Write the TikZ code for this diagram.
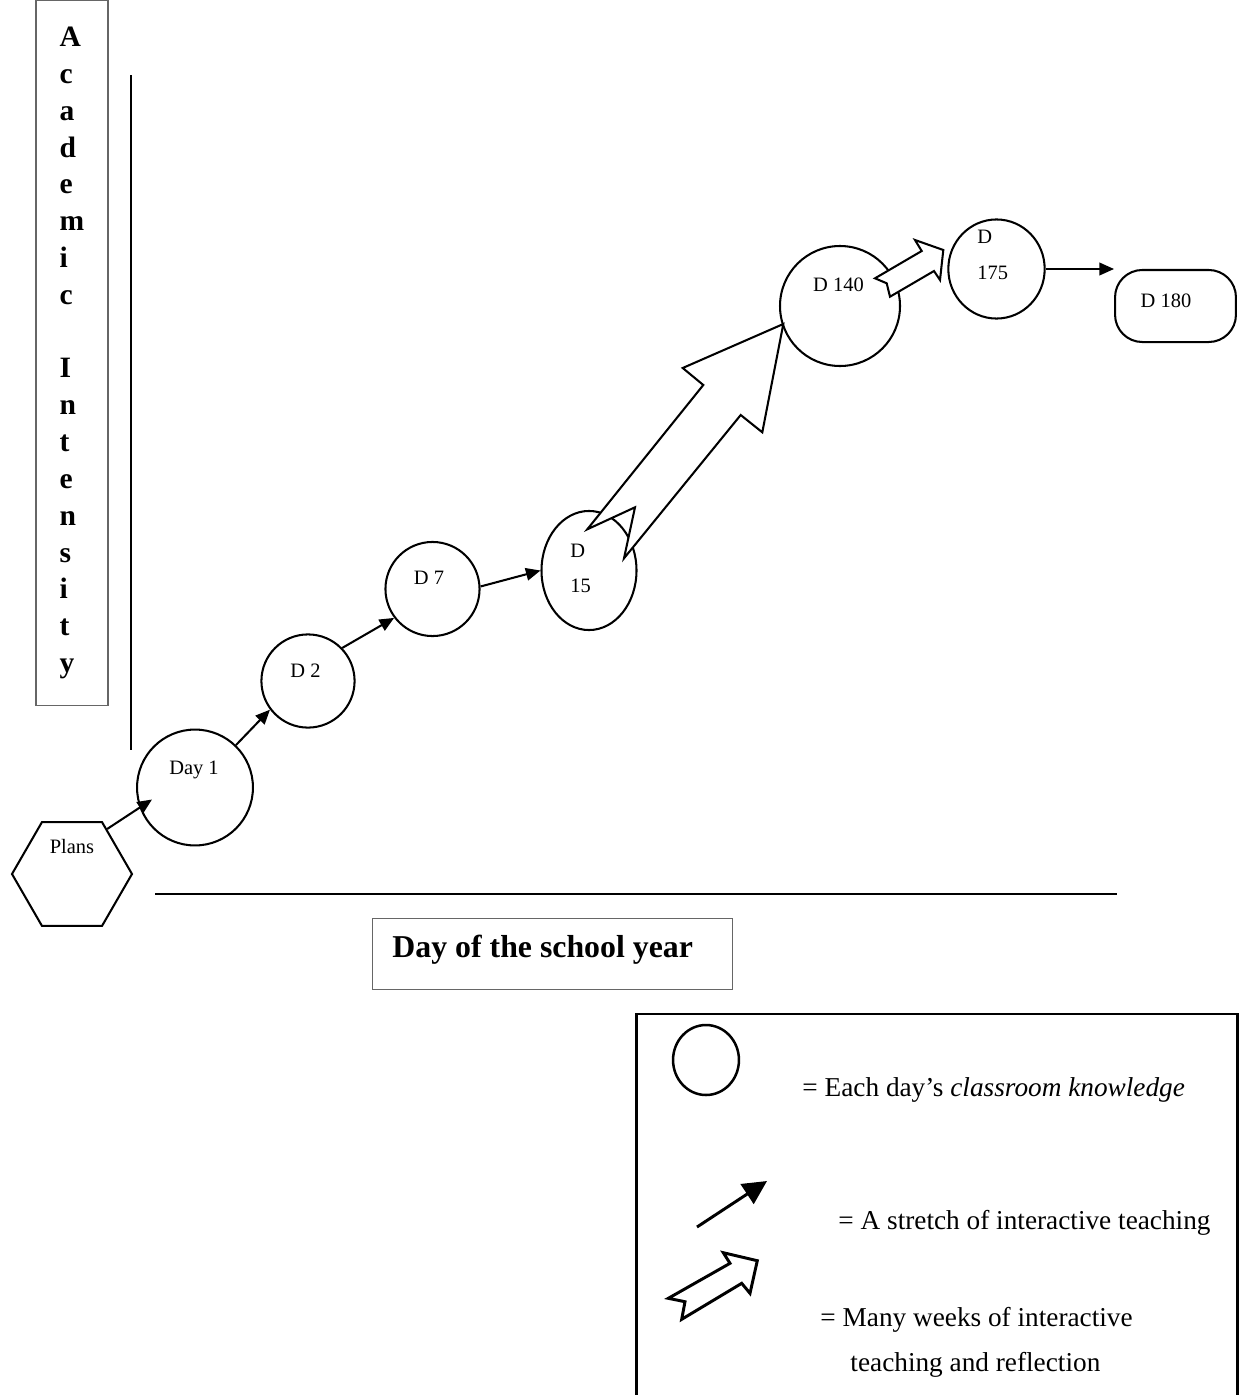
\documentclass[tikz,border=0pt]{standalone}
\usepackage{fontspec}
\setmainfont{Liberation Serif}
\usetikzlibrary{shapes.geometric}
\usetikzlibrary{arrows.meta}

\begin{document}
\begin{tikzpicture}[
		x=0.44pt, y=-0.44pt,
		day/.style = {circle, draw, line width=0.9pt, inner sep=0},
		oval/.style = {ellipse, draw, line width=0.9pt, inner sep=0},
		txt/.style = {anchor=base, inner sep=0, font=\fontsize{9}{11}\selectfont},
		leg/.style = {anchor=base west, inner sep=0, font=\fontsize{12}{14}\selectfont},
		gbox/.style = {rectangle, draw=black!60, line width=0.5pt, inner sep=0},
		r/.style = {-{Triangle[length=6.4pt, width=5.5pt]}, line width=0.9pt},
		hol/.style = {draw, fill=white, line width=0.9pt, miter limit=20}
		]
		\useasboundingbox (0,0) rectangle (1245,1395);
		
		%Axes
		\node[gbox, minimum width=31.7pt, minimum height=310pt, align=left,
			font=\bfseries\fontsize{13}{16.2}\selectfont] (ylab) at (72,353)
			{A\\c\\a\\d\\e\\m\\i\\c\\\mbox{}\\I\\n\\t\\e\\n\\s\\i\\t\\y};
		\draw[line width=0.9pt] (131,75) -- (131,750);
		\draw[line width=0.9pt] (155,894) -- (1117,894);
		\node[gbox, minimum width=158.4pt, minimum height=31.2pt] (xbox) at (552.5,954) {};
		\node[anchor=base west, inner sep=0, font=\bfseries\fontsize{14}{17}\selectfont] (xlab) at (392,957) {Day of the school year};
		
		%Nodes
		\node[regular polygon, regular polygon sides=6, draw, line width=0.9pt, minimum size=52.8pt, inner sep=0] (plans) at (72,874) {};
		\node[day, minimum size=51pt]	(day1)	at (195,787.5)	{};
		\node[day, minimum size=41pt]	(d2)	at (308,681)	{};
		\node[day, minimum size=41.4pt]	(d7)	at (432.5,589)	{};
		\node[oval, minimum width=41.8pt, minimum height=52.4pt]	(d15)	at (589,570.5)	{};
		\node[day, minimum size=52.8pt]	(d140)	at (840,306)	{};
		\node[oval, minimum width=42.4pt, minimum height=43.6pt]	(d175)	at (996.5,269)	{};
		\node[rectangle, draw, line width=0.9pt, rounded corners=12pt, minimum width=53.2pt, minimum height=31.7pt] (d180) at (1175.5,306) {};
		
		%Labels
		\node[txt]	(tplans)	at (72,853)		{Plans};
		\node[txt]	(tday1)		at (194,774)	{Day 1};
		\node[txt]	(td2)		at (305.5,677)	{D 2};
		\node[txt]	(td7)		at (429,584)	{D 7};
		\node[txt, anchor=base west]	(td15a)	at (570,557)	{D};
		\node[txt, anchor=base west]	(td15b)	at (570,592)	{15};
		\node[txt]	(td140)		at (838.5,291)	{D 140};
		\node[txt, anchor=base west]	(td175a)	at (977,243)	{D};
		\node[txt, anchor=base west]	(td175b)	at (977,279)	{175};
		\node[txt]	(td180)		at (1166,307)	{D 180};
		
		%Lines
		\draw[r]	(plans.52)	--	([shift={(-43,12)}]day1.center);
		\draw[r]	(day1.46)	--	(d2.217);
		\draw[r]	(d2.44)		--	(d7.217);
		\draw[r]	(d7.3)		--	(d15.west);
		\draw[r]	(d175.east)	--	(d175.east -| d180.west);
		
		%Hollow arrows
		\draw[hol] (587.3,529.3) -- (703.3,385) -- (682.7,368) -- (783.3,324) -- (762.3,432.3) -- (740.7,415) -- (624,558.3) -- (635,507.3) -- cycle;
		\draw[hol] (875,278.3) -- (921.7,251) -- (915,240) -- (943.3,250) -- (940,280) -- (934,271) -- (890,296.7) -- (886.7,283.3) -- cycle;
		
		%Legend
		\draw[line width=0.9pt] (636.5,1395) -- (636.5,1014) -- (1237.5,1014) -- (1237.5,1395);
		\node[oval, line width=1.1pt, minimum width=29pt, minimum height=30.8pt] (kcirc) at (706,1060) {};
		\draw[line width=1.3pt, -{Triangle[length=10.5pt, width=10.3pt]}] (697,1227) -- (767,1181);
		\draw[hol, line width=1.3pt] (668.3,1298.3) -- (730,1263.3) -- (723.3,1252.7) -- (757.3,1260.7) -- (750,1293.3) -- (741.7,1283.3) -- (681.7,1319.3) -- (685,1301.7) -- cycle;
		\node[leg]	(l1)	at (802,1096)	{= Each day's \textit{classroom knowledge}};
		\node[leg]	(l2)	at (838,1229)	{= A stretch of interactive teaching};
		\node[leg]	(l3)	at (820,1326)	{= Many weeks of interactive};
		\node[leg]	(l4)	at (850,1371)	{teaching and reflection};
\end{tikzpicture}
\end{document}
